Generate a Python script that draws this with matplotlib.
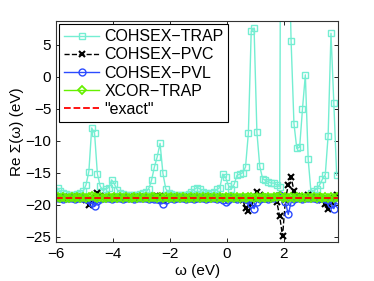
import numpy as np
import matplotlib as mpl
mpl.use('Agg')
import matplotlib.pyplot as plt

plt.rcParams['font.family'] = ['Liberation Sans', 'DejaVu Sans']

# frequency grid (eV)
omega = np.round(np.arange(-5.95, 3.86, 0.1), 2)

cohsex_trap = [
    -17.4, -17.9, -18.2, -18.3, -18.4, -18.4, -18.4, -18.3, -18.2, -17.9,
    -16.9, -14.8, -8.0, -8.8, -15.2, -17.1, -17.8, -17.5, -17.3, -16.1,
    -16.8, -17.7, -18.1, -18.3, -18.4, -18.4, -18.5, -18.4, -18.4, -18.3,
    -18.2, -18.0, -17.5, -16.2, -14.1, -12.5, -10.4, -15.1, -17.5, -18.1,
    -18.3, -18.4, -18.5, -18.5, -18.5, -18.4, -18.3, -18.0, -17.6, -17.3,
    -17.5, -18.0, -18.2, -18.3, -18.2, -18.0, -17.6, -17.3, -15.2, -15.7,
    -17.0, -17.5, -16.8, -15.4, -15.2, -15.0, -14.1, -8.8, 7.1, 7.6,
    -8.7, -14.0, -15.9, -16.2, -16.4, -16.6, -16.6, -16.9, -17.2, 120.0,
    60.0, 25.0, 5.6, -7.3, -11.2, -11.0, -5.0, 0.3, -12.9, -18.1,
    -17.8, -17.5, -16.9, -16.0, -15.3, -9.2, 6.8, -4.1, -15.4,
]

cohsex_pvc = [
    -18.9, -18.8, -18.9, -18.9, -18.8, -18.9, -18.9, -18.8, -18.9, -18.9,
    -19.2, -20.0, -19.4, -18.9, -18.1, -18.7, -18.9, -18.8, -18.9, -18.9,
    -18.9, -18.8, -18.9, -18.9, -18.9, -18.8, -18.9, -18.9, -18.9, -18.8,
    -18.9, -18.9, -18.8, -18.9, -18.8, -18.7, -18.6, -19.3, -19.0, -18.9,
    -18.9, -18.9, -18.8, -18.9, -18.9, -18.9, -18.8, -18.9, -18.9, -18.8,
    -18.9, -18.9, -18.9, -18.8, -18.9, -18.9, -18.9, -18.8, -18.9, -19.1,
    -18.9, -18.8, -18.9, -18.9, -18.9, -19.2, -20.5, -21.0, -19.9, -19.1,
    -18.0, -18.5, -18.8, -18.9, -18.9, -18.9, -19.0, -19.6, -21.8, -24.9,
    -19.2, -16.9, -15.7, -17.8, -18.6, -18.9, -18.9, -18.8, -18.4, -18.9,
    -18.9, -18.8, -18.9, -19.2, -19.9, -20.7, -19.6, -19.0, -18.5,
]

cohsex_pvl = [
    -19.0, -19.0, -19.1, -19.0, -19.0, -19.0, -19.1, -19.0, -19.0, -19.0,
    -19.1, -19.3, -19.7, -20.2, -19.4, -19.1, -19.0, -19.0, -19.0, -19.1,
    -19.0, -19.0, -19.0, -19.1, -19.0, -19.0, -19.0, -19.1, -19.0, -19.0,
    -19.0, -19.0, -19.1, -19.0, -19.1, -19.1, -19.3, -19.8, -19.2, -19.0,
    -19.0, -19.1, -19.0, -19.0, -19.0, -19.1, -19.0, -19.0, -19.1, -19.0,
    -19.0, -19.0, -19.1, -19.0, -19.0, -19.0, -19.1, -19.0, -19.2, -19.5,
    -19.3, -19.0, -19.0, -19.1, -19.0, -19.0, -19.1, -19.3, -19.8, -20.6,
    -19.5, -19.1, -19.0, -19.0, -19.1, -19.0, -18.9, -18.6, -18.4, -18.8,
    -19.5, -21.5, -19.6, -19.1, -19.0, -19.0, -19.1, -19.0, -19.0, -19.0,
    -19.0, -19.1, -19.0, -19.0, -19.1, -19.3, -19.8, -20.6, -19.3,
]

xcor_trap = [
    -18.8, -18.9, -18.8, -18.9, -18.9, -18.8, -18.9, -18.8, -18.9, -18.8,
    -18.9, -18.8, -18.7, -18.8, -18.9, -18.8, -18.9, -18.9, -18.8, -18.9,
    -18.8, -18.9, -18.8, -18.9, -18.8, -18.9, -18.9, -18.8, -18.9, -18.8,
    -18.9, -18.8, -18.9, -18.8, -18.8, -18.9, -18.8, -18.9, -18.8, -18.9,
    -18.8, -18.9, -18.8, -18.9, -18.8, -18.9, -18.9, -18.8, -18.9, -18.8,
    -18.9, -18.8, -18.9, -18.8, -18.9, -18.8, -18.9, -18.8, -18.9, -18.8,
    -18.9, -18.8, -18.9, -18.8, -18.9, -18.8, -18.9, -18.8, -18.8, -18.9,
    -18.8, -18.9, -18.8, -18.9, -18.8, -18.9, -18.8, -18.8, -18.7, -18.9,
    -18.8, -18.9, -18.8, -18.9, -18.8, -18.9, -18.8, -18.9, -18.8, -18.9,
    -18.8, -18.9, -18.8, -18.9, -18.8, -18.9, -18.8, -18.9, -18.8,
]

exact_w = [-6.0, 3.9]
exact_v = [-18.9, -18.9]

labels = ['COHSEX\u2212TRAP', 'COHSEX\u2212PVC', 'COHSEX\u2212PVL',
          'XCOR\u2212TRAP', '"exact"']

fig = plt.figure(figsize=(3.74, 2.81), dpi=100)
ax = fig.add_axes([0.150, 0.139, 0.754, 0.786])

ax.plot(omega, cohsex_trap, '-s', color='#74EED2', mfc='none', ms=4.2,
        mew=1.0, lw=1.0, label=labels[0])
ax.plot(omega, cohsex_pvc, '--x', color='black', ms=3.8, mew=1.5,
        lw=1.0, label=labels[1])
ax.plot(omega, cohsex_pvl, '-o', color='#2b4bff', mfc='none', ms=5,
        mew=1.0, lw=1.0, label=labels[2])
ax.plot(omega, xcor_trap, '-D', color='#66f000', mfc='none', ms=4.0,
        mew=1.3, lw=1.0, label=labels[3])
ax.plot(exact_w, exact_v, '--', color='red', lw=1.3, label=labels[4])

ax.set_xlim(-6, 3.9)
ax.set_ylim(-25.8, 8.7)
ax.set_xticks([-6, -4, -2, 0, 2])
ax.set_yticks([-25, -20, -15, -10, -5, 0, 5])
ax.tick_params(direction='in', top=True, right=True, length=3,
               labelsize=11, width=0.6)
for s in ax.spines.values():
    s.set_linewidth(0.8)
    s.set_color('#333333')

ax.set_xlabel('\u03c9 (eV)', fontsize=11, labelpad=2)
ax.set_ylabel('Re \u03a3(\u03c9) (eV)', fontsize=11, labelpad=1)

leg = ax.legend(loc='upper left', bbox_to_anchor=(0.012, 0.985),
                fontsize=11.5, frameon=True, fancybox=False, framealpha=1,
                edgecolor='black', borderpad=0.3, labelspacing=0.2,
                handlelength=2.2, handletextpad=0.3, borderaxespad=0)
leg.get_frame().set_linewidth(0.8)

fig.savefig('out.png', dpi=100)
